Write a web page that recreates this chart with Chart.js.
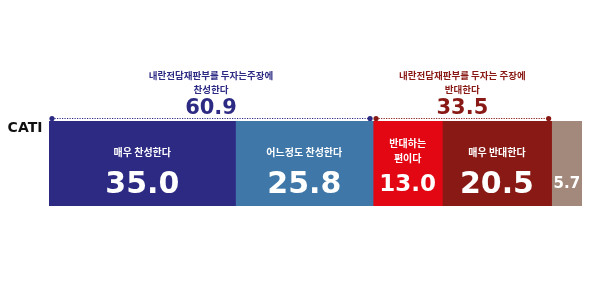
<!DOCTYPE html>
<html>
<head>
<meta charset="utf-8">
<script src="https://cdn.jsdelivr.net/npm/chart.js@4"></script>
<style>
  html, body { margin: 0; padding: 0; background: #fff; }
  #wrap { width: 600px; height: 300px; }
</style>
</head>
<body>
<div id="wrap"><canvas id="myChart" width="600" height="300"></canvas></div>
<script>
// data
const categories = ['CATI'];
const segmentNames = [['매우 찬성한다'], ['어느정도 찬성한다'], ['반대하는', '편이다'], ['매우 반대한다'], []];
const values = [35.0, 25.8, 13.0, 20.5, 5.7];
const groupTitles = [['내란전담재판부를 두자는주장에', '찬성한다'], ['내란전담재판부를 두자는 주장에', '반대한다']];
const groupTotals = [60.9, 33.5];
const groupFrom = [0, 2];   // first segment of each group
const groupTo = [1, 3];     // last segment of each group

const colors = ['#2d2a84', '#3f78a8', '#e30613', '#891914', '#a3897b'];
const groupColors = ['#2d2a84', '#891914'];
const numSizes = [30, 30, 23, 30, 15];

const numFont = '"DejaVu Sans", sans-serif';
const krFont = '"Noto Sans CJK KR", sans-serif';

// labels, brackets and totals
const labelPlugin = {
  id: 'labels',
  afterDatasetsDraw(chart) {
    const ctx = chart.ctx;
    const xs = chart.scales.x;
    const area = chart.chartArea;
    ctx.save();

    // row label
    ctx.fillStyle = '#111';
    ctx.font = 'bold 14px ' + numFont;
    ctx.textAlign = 'center';
    ctx.textBaseline = 'middle';
    ctx.fillText(categories[0], 25, 128);

    // segment labels
    for (let i = 0; i < values.length; i++) {
      const bar = chart.getDatasetMeta(i).data[0];
      const cx = (bar.x + bar.base) / 2;
      ctx.fillStyle = '#fff';
      ctx.textAlign = 'center';
      ctx.font = 'bold 10px ' + krFont;
      ctx.textBaseline = 'middle';
      const lines = segmentNames[i];
      if (lines.length == 1) {
        ctx.fillText(lines[0], cx, 152);
      } else {
        lines.forEach((l, k) => ctx.fillText(l, cx, 143 + k * 15));
      }
      ctx.font = 'bold ' + numSizes[i] + 'px ' + numFont;
      ctx.textBaseline = 'alphabetic';
      const base = numSizes[i] >= 30 ? 193 : (numSizes[i] >= 20 ? 191 : 188);
      ctx.fillText(values[i].toFixed(1), cx, base);
    }

    // group brackets
    for (let g = 0; g < groupTotals.length; g++) {
      let start = 0;
      for (let i = 0; i < groupFrom[g]; i++) start += values[i];
      let end = start;
      for (let i = groupFrom[g]; i <= groupTo[g]; i++) end += values[i];
      const x1 = xs.getPixelForValue(start) + 3;
      const x2 = xs.getPixelForValue(end) - 3;
      const y = area.top - 2.5;
      const cx = (x1 + x2) / 2;

      ctx.strokeStyle = groupColors[g];
      ctx.fillStyle = groupColors[g];
      ctx.lineWidth = 1.2;
      ctx.setLineDash([1.2, 1.3]);
      ctx.beginPath();
      ctx.moveTo(x1, y);
      ctx.lineTo(x2, y);
      ctx.stroke();
      ctx.setLineDash([]);
      [x1, x2].forEach(px => {
        ctx.beginPath();
        ctx.arc(px, y, 2.6, 0, Math.PI * 2);
        ctx.fill();
      });

      ctx.textAlign = 'center';
      ctx.textBaseline = 'middle';
      ctx.font = 'bold 9.5px ' + krFont;
      ctx.fillText(groupTitles[g][0], cx, 75);
      ctx.fillText(groupTitles[g][1], cx, 89);
      ctx.font = 'bold 21px ' + numFont;
      ctx.textBaseline = 'alphabetic';
      ctx.fillText(groupTotals[g].toFixed(1), cx, 114);
    }
    ctx.restore();
  }
};

const ctx = document.getElementById('myChart');
new Chart(ctx, {
  type: 'bar',
  data: {
    labels: categories,
    datasets: values.map((v, i) => ({
      label: segmentNames[i].join(' ') || '기타',
      data: [v],
      backgroundColor: colors[i],
      borderWidth: 0,
      categoryPercentage: 1,
      barPercentage: 1
    }))
  },
  options: {
    indexAxis: 'y',
    responsive: false,
    animation: false,
    layout: { padding: { left: 49, right: 18, top: 121, bottom: 94 } },
    scales: {
      x: { stacked: true, min: 0, max: 100, display: false },
      y: { stacked: true, display: false }
    },
    plugins: {
      legend: { display: false },
      tooltip: { enabled: false }
    }
  },
  plugins: [labelPlugin]
});
</script>
</body>
</html>
